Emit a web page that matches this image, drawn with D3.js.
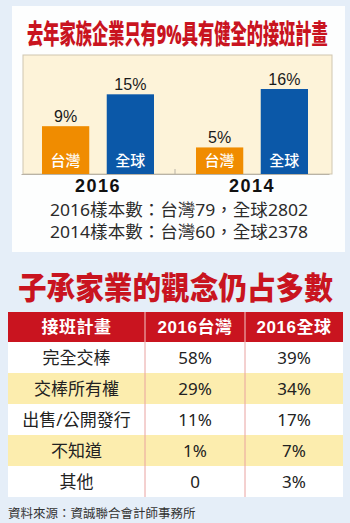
<!DOCTYPE html>
<html>
<head>
<meta charset="utf-8">
<script src="https://cdn.jsdelivr.net/npm/d3@7"></script>
<style>
  html, body { margin: 0; padding: 0; background: #e5eef8; }
  svg { display: block; }
</style>
</head>
<body>
<svg id="chart" width="350" height="523"></svg>
<script>
// ---- data ----
const years = ["2016", "2014"];
const regions = ["台灣", "全球"];
const share2016 = [9, 15];
const share2014 = [5, 16];
const sampleNotes = ["2016樣本數：台灣79，全球2802", "2014樣本數：台灣60，全球2378"];

const tableHeader = ["接班計畫", "2016台灣", "2016全球"];
const plans = ["完全交棒", "交棒所有權", "出售/公開發行", "不知道", "其他"];
const taiwan2016 = ["58%", "29%", "11%", "1%", "0"];
const global2016 = ["39%", "34%", "17%", "7%", "3%"];

const title1 = "去年家族企業只有9%具有健全的接班計畫";
const title2 = "子承家業的觀念仍占多數";
const source = "資料來源：資誠聯合會計師事務所";

const RED = "#c9141f";
const ORANGE = "#f08c00";
const BLUE = "#0b58a8";
const CJK = "'Noto Sans', 'Noto Sans CJK TC', sans-serif";
const LATIN = "'Liberation Sans', Arial, 'Noto Sans CJK TC', sans-serif";

const svg = d3.select("#chart");

// condensed headline: drawn at full size then squeezed horizontally
function headline(text, x, y, size, width) {
  const t = svg.append("text").text(text)
    .attr("x", 0).attr("y", 0)
    .attr("font-family", CJK).attr("font-weight", 900).attr("font-size", size)
    .attr("fill", RED);
  const w = t.node().getComputedTextLength();
  t.attr("transform", `translate(${x},${y}) scale(${width / w},1)`);
  return t;
}

// ---- top panel ----
svg.append("rect").attr("x", 12).attr("y", 6).attr("width", 333).attr("height", 246)
  .attr("fill", "#fdfefe");

headline(title1, 27, 44, 27, 301);

const plot = { left: 23, right: 332, top: 55, bottom: 174 };
svg.append("rect")
  .attr("x", plot.left).attr("y", plot.top)
  .attr("width", plot.right - plot.left).attr("height", plot.bottom - plot.top)
  .attr("fill", "#fdf3d9").attr("stroke", "#cfc6b0").attr("stroke-width", 1);

const series = years.map((yr, i) => ({
  year: yr,
  values: regions.map((r, j) => ({ region: r, value: (i === 0 ? share2016 : share2014)[j] }))
}));

const x0 = d3.scaleBand().domain(years).range([21, 329]);
const x1 = d3.scaleBand().domain(regions).range([21, 133]).paddingInner(0.27);
const y = d3.scaleLinear().domain([0, 16]).range([plot.bottom, 89]);
const color = d3.scaleOrdinal().domain(regions).range([ORANGE, BLUE]);

const groups = svg.selectAll("g.year").data(series).join("g")
  .attr("class", "year")
  .attr("transform", d => `translate(${x0(d.year)},0)`);

const bars = groups.selectAll("g.bar").data(d => d.values).join("g").attr("class", "bar");

bars.append("rect")
  .attr("x", d => x1(d.region))
  .attr("y", d => y(d.value))
  .attr("width", x1.bandwidth())
  .attr("height", d => y(0) - y(d.value))
  .attr("fill", d => color(d.region));

bars.append("text")
  .text(d => d.value + "%")
  .attr("x", d => x1(d.region) + x1.bandwidth() / 2)
  .attr("y", d => y(d.value) - 4)
  .attr("text-anchor", "middle")
  .attr("font-family", LATIN)
  .attr("font-size", 16).attr("fill", "#1a1a1a");

bars.append("text")
  .text(d => d.region)
  .attr("x", d => x1(d.region) + x1.bandwidth() / 2)
  .attr("y", 166)
  .attr("text-anchor", "middle")
  .attr("font-family", CJK).attr("font-weight", 500)
  .attr("font-size", 15).attr("fill", "#fff");

// baseline axis with a divider tick between the two years
const axis = d3.axisBottom(x0).tickSize(0).tickPadding(5);
const axisG = svg.append("g").attr("transform", `translate(0,${plot.bottom})`).call(axis);
axisG.select(".domain").attr("stroke", "#b9b3a6");
axisG.selectAll(".tick text")
  .attr("font-family", LATIN)
  .attr("font-weight", 700).attr("font-size", 18)
  .attr("letter-spacing", 1.5).attr("fill", "#111");
svg.append("line")
  .attr("x1", x0("2014")).attr("x2", x0("2014"))
  .attr("y1", plot.bottom - 5).attr("y2", plot.bottom)
  .attr("stroke", "#b9b3a6");

svg.selectAll("text.note").data(sampleNotes).join("text")
  .attr("class", "note")
  .text(d => d)
  .attr("x", 50).attr("y", (d, i) => 216 + i * 22)
  .attr("textLength", 258).attr("lengthAdjust", "spacingAndGlyphs")
  .attr("font-family", CJK).attr("font-size", 16.5).attr("fill", "#2b2b2b");

// ---- table section ----
headline(title2, 18, 299, 31, 315);

const colX = [8, 145, 245, 343];
const headerTop = 312, headerH = 30, rowH = 31;

svg.append("rect").attr("x", colX[0]).attr("y", headerTop)
  .attr("width", colX[3] - colX[0]).attr("height", headerH).attr("fill", RED);

tableHeader.forEach((h, i) => {
  svg.append("text").text(h)
    .attr("x", (colX[i] + colX[i + 1]) / 2).attr("y", headerTop + 21)
    .attr("text-anchor", "middle")
    .attr("font-family", LATIN).attr("font-weight", 700).attr("font-size", 17)
    .attr("letter-spacing", 0.5)
    .attr("fill", "#fff");
});

const rows = plans.map((p, i) => [p, taiwan2016[i], global2016[i]]);
const rowG = svg.selectAll("g.row").data(rows).join("g")
  .attr("class", "row")
  .attr("transform", (d, i) => `translate(0,${headerTop + headerH + i * rowH})`);

rowG.append("rect")
  .attr("x", colX[0]).attr("width", colX[3] - colX[0]).attr("height", rowH)
  .attr("fill", (d, i) => i % 2 === 1 ? "#fcedae" : "#ffffff");

rowG.selectAll("text").data(d => d).join("text")
  .text(d => d)
  .attr("x", (d, i) => (colX[i] + colX[i + 1]) / 2)
  .attr("y", 22)
  .attr("text-anchor", "middle")
  .attr("font-family", CJK).attr("font-size", 17).attr("fill", "#222");

// column dividers
[1, 2].forEach(i => {
  svg.append("line")
    .attr("x1", colX[i]).attr("x2", colX[i])
    .attr("y1", headerTop).attr("y2", headerTop + headerH)
    .attr("stroke", "#f3c7c7").attr("stroke-width", 1);
  svg.append("line")
    .attr("x1", colX[i]).attr("x2", colX[i])
    .attr("y1", headerTop + headerH).attr("y2", headerTop + headerH + plans.length * rowH)
    .attr("stroke", "#e9a2a0").attr("stroke-width", 1);
});

svg.append("text").text(source)
  .attr("x", 8).attr("y", 518)
  .attr("font-family", CJK).attr("font-size", 12.5).attr("fill", "#333");
</script>
</body>
</html>
